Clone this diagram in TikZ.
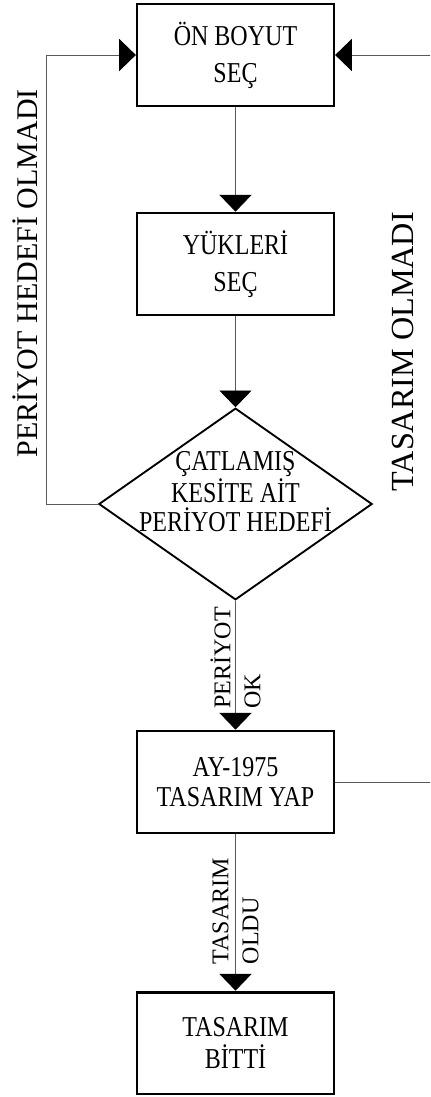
\documentclass[tikz,border=0pt]{standalone}
\usepackage{fontspec}
\setmainfont{Liberation Serif}
\usetikzlibrary{arrows.meta,positioning,shapes.geometric}

\begin{document}
\begin{tikzpicture}[
      box/.style={draw,line width=2.2pt,yscale=1.2,minimum width=5.9cm,minimum height=2.54cm,align=center,font=\fontsize{20.5pt}{21.3pt}\selectfont},
      dia/.style={draw,diamond,line width=1.6pt,minimum width=8.2cm,minimum height=5.75cm,inner sep=0pt},
      lbl/.style={align=center,yscale=1.2,font=\fontsize{20.5pt}{20.7pt}\selectfont},
      pathlbl/.style={rotate=90,align=left,inner sep=0pt,font=\fontsize{20.5pt}{25.6pt}\selectfont},
      sidelbl/.style={rotate=90,inner sep=0pt,font=\fontsize{25.6pt}{30pt}\selectfont},
      arr/.style={-{Triangle[length=0.5cm,width=0.96cm,color=black]},line width=0.7pt,black!65}
    ]
    \path[use as bounding box,clip] (0,0) rectangle (12.9,-32.91);
    \node[box,font=\fontsize{20.5pt}{26.2pt}\selectfont] (onboyut) at (7.065,-1.65) {ÖN BOYUT\\SEÇ};
    \node[box,font=\fontsize{20.5pt}{26.2pt}\selectfont] (yukler) at (7.065,-7.92) {YÜKLERİ\\SEÇ};
    \node[dia] (catlak) at (7.065,-15.12) {};
    \node[lbl] (catlaktxt) at (7.065,-14.75) {ÇATLAMIŞ\\KESİTE AİT\\PERİYOT HEDEFİ};
    \node[box] (ay) at (7.065,-23.46) {AY-1975\\TASARIM YAP};
    \node[box,font=\fontsize{20.5pt}{23.3pt}\selectfont] (bitti) at (7.065,-31.29) {TASARIM\\BİTTİ};
    % akis oklari
    \draw[arr] (onboyut.south)--(yukler.north);
    \draw[arr] (yukler.south)--(catlak.north);
    \draw[arr] (catlak.south)--(ay.north);
    \draw[arr] (ay.south)--(bitti.north);
    % geri donusler
    \draw[arr] (catlak.west)-- ++(-1.53,0) |- (onboyut.west);
    \draw[arr] (ay.east)-- ++(3.2,0) |- (onboyut.east);
    \node[pathlbl] (periyotok) at (7.065,-19.74) {PERİYOT\\OK};
    \node[pathlbl] (tasoldu) at (7.065,-27.33) {TASARIM\\OLDU};
    \node[sidelbl] (perolmadi) at (0.76,-8.2) {PERİYOT HEDEFİ OLMADI};
    \node[sidelbl,font=\fontsize{27.5pt}{30pt}\selectfont] (tasolmadi) at (12.09,-10.55) {TASARIM OLMADI};
  \end{tikzpicture}
\end{document}
